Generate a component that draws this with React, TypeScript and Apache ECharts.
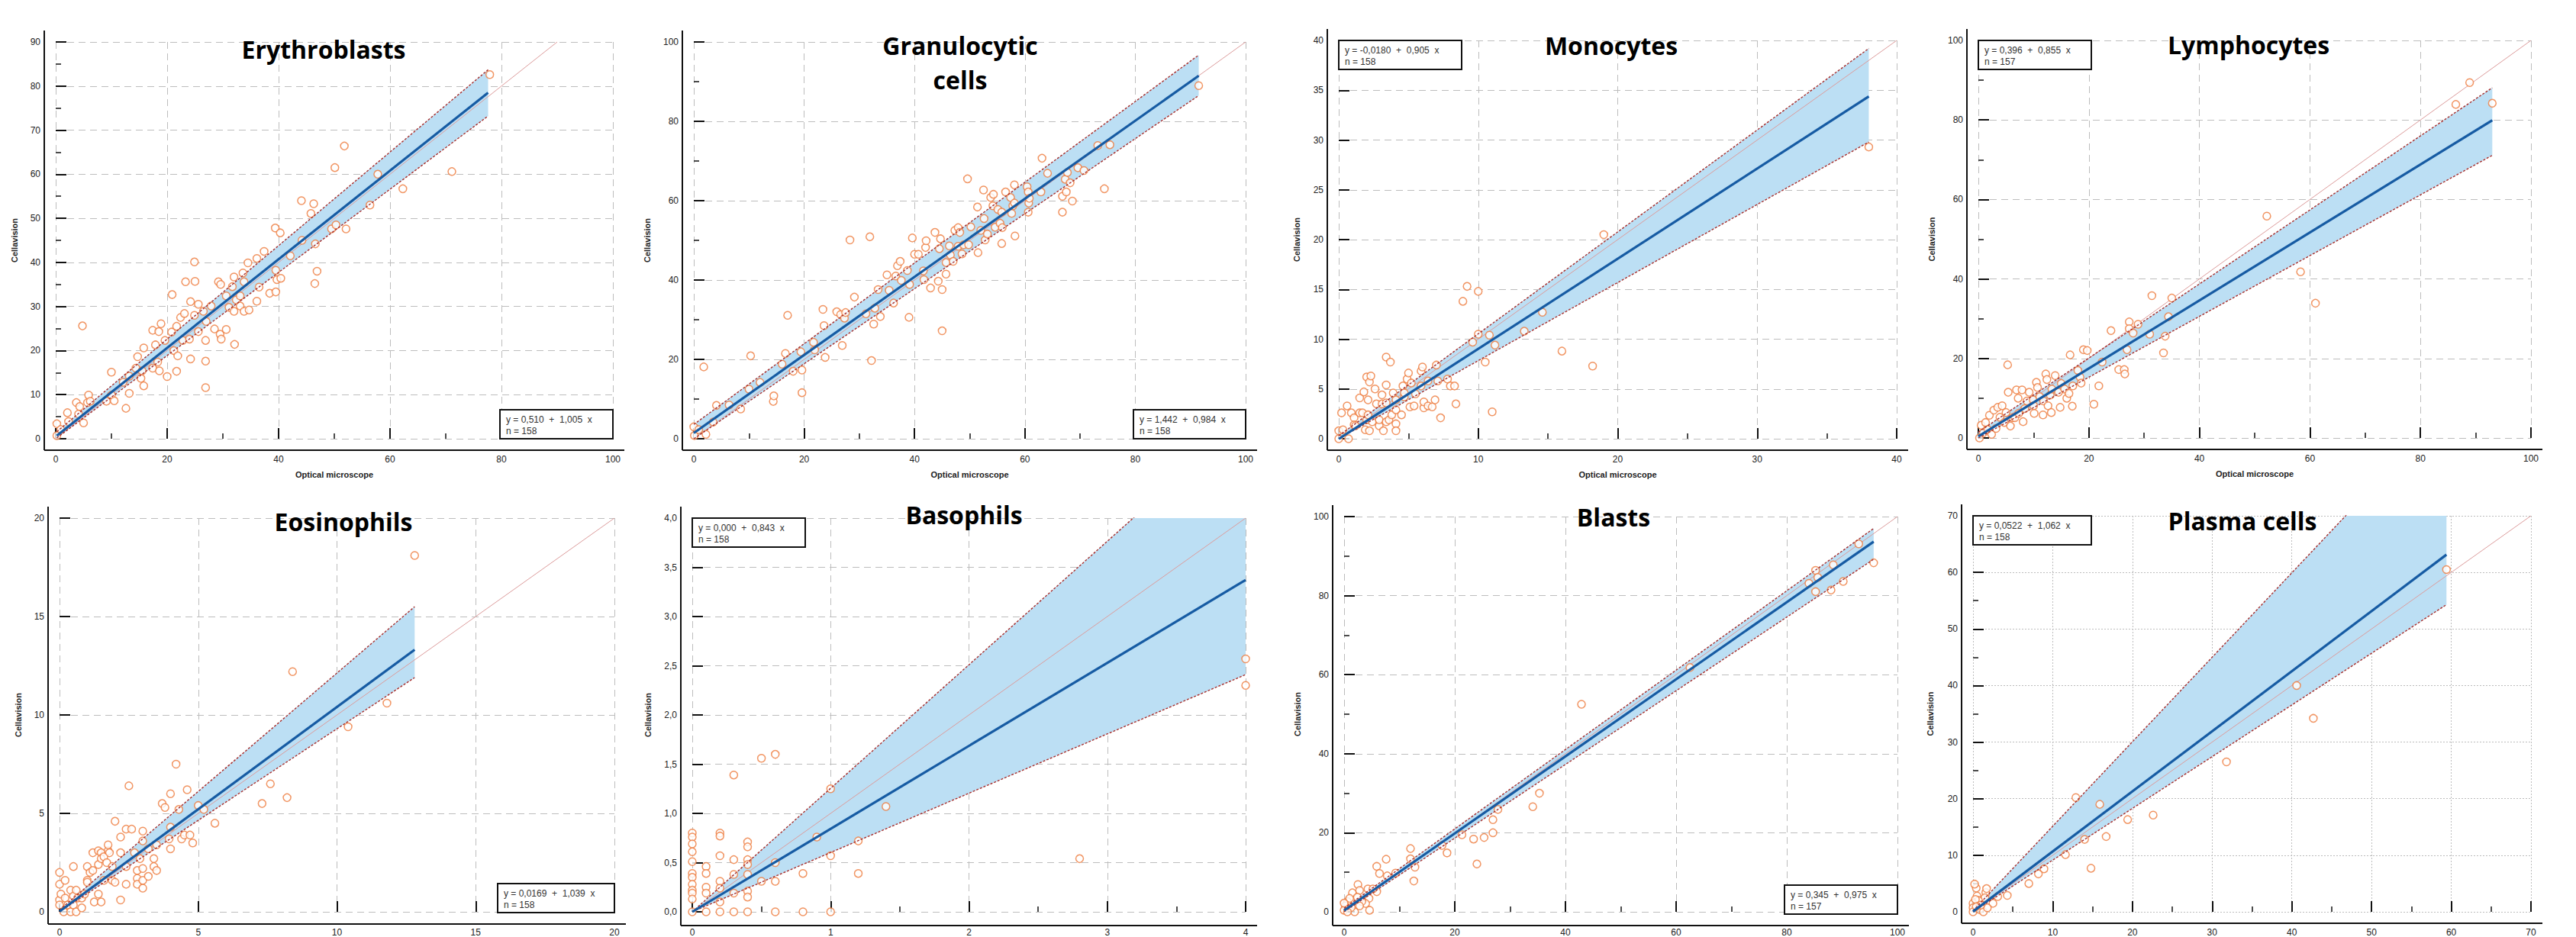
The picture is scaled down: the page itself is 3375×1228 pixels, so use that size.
import React, { useEffect, useRef } from "react";
import * as echarts from "echarts";

// ---------------- DATA ----------------
const panelTitles: string[][] = [
  ["Erythroblasts"],
  ["Granulocytic", "cells"],
  ["Monocytes"],
  ["Lymphocytes"],
  ["Eosinophils"],
  ["Basophils"],
  ["Blasts"],
  ["Plasma cells"],
];

const equationLabels = [
  "y = 0,510  +  1,005  x",
  "y = 1,442  +  0,984  x",
  "y = -0,0180  +  0,905  x",
  "y = 0,396  +  0,855  x",
  "y = 0,0169  +  1,039  x",
  "y = 0,000  +  0,843  x",
  "y = 0,345  +  0,975  x",
  "y = 0,0522  +  1,062  x",
];
const sampleSizes = [158, 158, 158, 157, 158, 158, 157, 158];

// regression [intercept, slope] and x-range of the fitted line
const fitCoefficients = [
  [0.51, 1.005],
  [1.442, 0.984],
  [-0.018, 0.905],
  [0.396, 0.855],
  [0.0169, 1.039],
  [0.0, 0.843],
  [0.345, 0.975],
  [0.0522, 1.062],
];
const fitRanges = [
  [0.2, 77.6],
  [0, 91.5],
  [0, 38],
  [0, 93],
  [0, 12.8],
  [0, 4],
  [0, 95.7],
  [0, 59.4],
];

// confidence band edges (start point, end point)
const bandUpper = [
  [[0.2, 1.6], [77.6, 83.7]],
  [[0, 3.6], [91.5, 96.7]],
  [[0, 0.3], [38, 39.2]],
  [[0, 1.5], [93, 88.1]],
  [[0, 0.1], [12.8, 15.5]],
  [[0, 0], [4, 5.02]],
  [[0, 0.9], [95.7, 97.0]],
  [[0, 0.2], [59.4, 88.9]],
];
const bandLower = [
  [[0.2, 0.2], [77.6, 73.2]],
  [[0, 0], [91.5, 86.5]],
  [[0, 0], [38, 29.8]],
  [[0, 0], [93, 71.1]],
  [[0, 0], [12.8, 11.9]],
  [[0, 0], [4, 2.41]],
  [[0, 0], [95.7, 89.2]],
  [[0, 0], [59.4, 54.3]],
];

const erythroblastsPoints = [
  [0.2, 3.4], [0.2, 0.7], [0.9, 2.1], [2.1, 5.9], [2.3, 3.9], [3.7, 8.2], [4.1, 5.6], [4.3, 7.3], [4.8, 25.6], [5.0, 3.6],
  [5.7, 8.2], [5.9, 9.9], [6.2, 8.5], [9.1, 8.5], [10.0, 15.1], [10.0, 9.9], [10.5, 8.6], [12.1, 12.8], [12.6, 6.9], [13.2, 10.3],
  [13.2, 14.2], [14.4, 16.0], [14.7, 18.6], [15.3, 13.7], [15.5, 15.4], [15.8, 20.6], [15.8, 12.0], [17.4, 24.6], [17.4, 16.0], [17.9, 21.3],
  [18.3, 17.4], [18.5, 24.3], [18.6, 15.4], [18.9, 26.1], [19.6, 22.3], [20.0, 14.1], [20.8, 24.2], [20.9, 32.7], [21.2, 20.0], [21.7, 15.3],
  [21.7, 25.5], [21.9, 18.8], [22.4, 27.5], [22.8, 22.3], [23.1, 28.4], [23.3, 35.6], [24.0, 22.6], [24.2, 31.1], [24.2, 18.1], [24.9, 40.1],
  [24.9, 28.0], [25.0, 35.7], [25.6, 30.5], [25.6, 24.3], [26.5, 28.9], [26.9, 17.6], [26.9, 11.6], [26.9, 22.3], [27.0, 26.6], [27.9, 30.1],
  [28.5, 24.9], [29.2, 35.6], [29.5, 23.7], [29.6, 35.0], [29.7, 22.6], [30.6, 24.8], [30.6, 32.4], [31.1, 29.8], [31.7, 34.5], [32.0, 36.7],
  [32.0, 28.9], [32.1, 21.4], [32.4, 31.5], [33.1, 32.4], [33.1, 30.1], [33.6, 37.6], [33.8, 35.6], [33.8, 28.9], [34.5, 39.9], [34.7, 29.2],
  [36.1, 40.9], [36.1, 31.2], [36.5, 34.4], [37.4, 42.5], [38.4, 33.0], [39.4, 47.8], [39.5, 33.3], [39.5, 38.2], [39.7, 36.1], [40.3, 46.7],
  [40.4, 36.4], [42.1, 41.5], [44.1, 54.0], [44.2, 45.0], [45.8, 51.1], [46.3, 53.3], [46.6, 44.2], [46.5, 35.2], [46.9, 38.0], [49.5, 47.6],
  [50.3, 48.5], [52.1, 47.6], [50.1, 61.5], [51.8, 66.4], [56.4, 53.0], [57.8, 60.0], [62.3, 56.7], [71.1, 60.6], [77.9, 82.6],
];

const granulocyticPoints = [
  [0.0, 3.0], [0.1, 0.8], [0.9, 2.3], [2.2, 1.1], [1.8, 18.1], [3.5, 4.2], [4.1, 8.4], [6.4, 8.5], [8.5, 7.5], [10.0, 12.5],
  [10.3, 20.9], [12.0, 14.2], [14.4, 9.4], [14.5, 10.8], [16.0, 18.8], [16.6, 21.5], [17.0, 31.1], [18.0, 17.0], [19.4, 21.9], [19.6, 17.3],
  [19.6, 11.6], [21.7, 24.3], [21.9, 22.4], [23.4, 32.6], [23.6, 28.5], [23.8, 20.5], [25.9, 32.0], [26.6, 31.3], [26.9, 23.5], [27.3, 30.4],
  [27.5, 31.8], [28.3, 50.1], [29.1, 35.7], [31.2, 31.5], [31.9, 50.9], [32.2, 19.7], [32.6, 28.9], [32.8, 32.9], [33.4, 37.6], [33.8, 30.8],
  [35.0, 41.3], [35.4, 37.4], [36.2, 34.2], [36.6, 41.0], [36.9, 43.6], [37.4, 44.7], [37.6, 39.9], [38.7, 42.4], [39.0, 30.6], [39.1, 38.9],
  [39.6, 50.6], [40.0, 46.5], [40.7, 46.5], [41.6, 42.3], [41.7, 40.1], [42.0, 48.2], [42.1, 49.9], [42.9, 38.0], [43.7, 52.0], [44.3, 39.7],
  [44.5, 47.9], [44.7, 50.4], [45.0, 37.6], [45.0, 27.2], [45.7, 41.5], [45.7, 44.4], [46.3, 48.6], [46.5, 46.3], [47.0, 44.7], [47.3, 52.5],
  [47.9, 53.2], [47.9, 48.5], [48.2, 52.0], [48.6, 46.6], [48.9, 48.9], [49.6, 65.5], [49.8, 48.9], [50.2, 53.4], [51.4, 58.4], [51.5, 46.9],
  [52.0, 52.5], [52.5, 62.7], [52.6, 55.5], [52.8, 50.1], [53.2, 51.6], [53.8, 60.8], [54.2, 58.7], [54.3, 61.6], [54.6, 53.3], [55.1, 57.8],
  [55.5, 54.3], [55.8, 57.1], [55.8, 49.2], [55.9, 53.2], [56.5, 62.2], [57.4, 60.8], [57.6, 56.8], [57.8, 58.7], [58.1, 64.0], [58.1, 59.4],
  [58.2, 51.1], [60.4, 63.5], [60.6, 62.2], [60.6, 57.1], [60.7, 59.4], [60.8, 60.6], [62.9, 62.2], [63.1, 70.7], [64.1, 66.9], [66.8, 57.1],
  [66.8, 61.1], [67.3, 65.4], [67.5, 62.2], [67.7, 67.1], [68.2, 64.5], [68.6, 59.9], [69.6, 68.3], [70.7, 67.6], [73.2, 73.9], [74.4, 63.0],
  [75.4, 74.1], [91.5, 89.0],
];

const monocytesPoints = [
  [0.0, 0.0], [0.0, 0.8], [0.2, 2.6], [0.3, 0.9], [0.6, 3.3], [0.7, 0.0], [0.9, 2.6], [1.1, 2.1], [1.1, 1.4], [1.2, 1.3],
  [1.5, 4.1], [1.5, 2.6], [1.7, 2.6], [1.8, 4.7], [1.9, 0.9], [2.0, 6.2], [2.0, 1.9], [2.1, 3.9], [2.1, 2.4], [2.2, 5.7],
  [2.2, 0.8], [2.3, 6.3], [2.4, 1.7], [2.6, 5.0], [2.7, 3.5], [2.9, 1.3], [2.9, 1.9], [3.1, 4.4], [3.1, 3.5], [3.2, 0.8],
  [3.4, 8.2], [3.4, 5.4], [3.4, 1.7], [3.4, 3.6], [3.6, 1.9], [3.7, 7.7], [3.8, 2.4], [3.9, 4.6], [4.1, 3.9], [4.1, 1.5],
  [4.1, 0.8], [4.1, 2.9], [4.5, 2.4], [4.6, 5.3], [4.7, 4.2], [4.7, 4.6], [4.9, 6.0], [5.0, 6.6], [5.1, 3.2], [5.2, 5.6],
  [5.4, 3.3], [5.5, 4.5], [5.9, 6.8], [5.9, 5.3], [6.0, 7.2], [6.1, 3.1], [6.1, 3.7], [6.4, 5.8], [6.4, 3.3], [6.7, 3.2],
  [6.9, 3.9], [7.0, 7.4], [7.1, 5.8], [7.3, 2.1], [7.8, 6.0], [8.0, 5.3], [8.3, 5.3], [8.4, 3.5], [8.9, 13.8], [9.2, 15.3],
  [9.6, 9.7], [10.0, 14.8], [10.0, 10.5], [10.5, 7.7], [10.8, 10.4], [11.0, 2.7], [11.2, 9.4], [13.3, 10.8], [14.6, 12.7], [16.0, 8.8],
  [18.2, 7.3], [19.0, 20.5], [38.0, 29.3],
];

const lymphocytesPoints = [
  [0.2, 0.0], [0.5, 3.2], [0.9, 1.3], [1.3, 3.9], [1.7, 2.1], [2.0, 5.7], [2.4, 0.9], [2.8, 7.0], [3.2, 2.4], [3.5, 7.7],
  [3.9, 5.2], [4.3, 8.1], [4.7, 3.9], [5.0, 6.4], [5.3, 18.4], [5.4, 11.5], [5.8, 3.0], [6.2, 5.1], [6.6, 5.1], [6.9, 12.1],
  [7.2, 10.0], [7.3, 6.2], [7.9, 12.1], [8.1, 4.1], [8.4, 7.4], [8.8, 9.3], [9.2, 11.5], [9.9, 9.6], [10.0, 8.1], [10.1, 6.2],
  [10.5, 14.0], [10.7, 12.7], [11.1, 10.4], [11.7, 5.8], [11.8, 9.3], [12.2, 16.1], [12.4, 14.7], [12.6, 8.1], [13.0, 10.8], [13.2, 6.4],
  [13.3, 12.3], [13.9, 15.7], [14.5, 11.5], [14.8, 7.7], [15.0, 13.7], [15.6, 12.3], [16.0, 10.0], [16.4, 11.2], [16.6, 20.9], [17.0, 8.0],
  [17.1, 13.1], [18.0, 17.0], [18.4, 15.3], [18.6, 13.8], [19.0, 22.2], [19.7, 22.0], [20.9, 8.5], [21.8, 13.1], [22.4, 19.1], [24.0, 27.0],
  [25.4, 17.2], [26.4, 17.2], [26.5, 16.1], [26.9, 22.2], [27.3, 29.2], [27.3, 27.5], [28.0, 26.4], [28.9, 28.6], [31.0, 26.1], [31.4, 35.8],
  [33.5, 21.4], [33.8, 25.6], [34.4, 30.5], [35.0, 35.2], [52.2, 55.8], [58.3, 41.8], [61.0, 33.9], [86.4, 83.9], [88.9, 89.4], [93.0, 84.2],
];

const eosinophilsPoints = [
  [0.0, 2.0], [0.0, 1.4], [0.0, 0.6], [0.0, 0.35], [0.05, 0.9], [0.15, 0.0], [0.2, 1.6], [0.2, 0.7], [0.3, 0.35], [0.4, 1.1],
  [0.4, 0.0], [0.5, 2.3], [0.5, 0.8], [0.5, 0.35], [0.6, 1.1], [0.6, 0.0], [0.65, 0.7], [0.8, 0.7], [0.8, 0.2], [0.9, 0.9],
  [1.0, 2.3], [1.0, 1.6], [1.0, 1.5], [1.1, 2.0], [1.2, 3.0], [1.2, 2.1], [1.25, 0.5], [1.4, 3.1], [1.4, 2.4], [1.4, 0.9],
  [1.5, 3.0], [1.5, 2.7], [1.5, 0.5], [1.6, 2.8], [1.6, 1.6], [1.7, 2.5], [1.75, 3.1], [1.75, 3.4], [1.8, 3.0], [1.9, 2.3],
  [1.9, 1.6], [2.0, 4.6], [2.0, 1.5], [2.2, 3.8], [2.2, 3.0], [2.2, 0.6], [2.4, 4.2], [2.4, 2.3], [2.4, 1.4], [2.5, 6.4],
  [2.6, 4.2], [2.7, 3.0], [2.8, 2.1], [2.8, 1.7], [2.8, 1.4], [2.9, 2.7], [3.0, 4.1], [3.0, 3.6], [3.0, 2.2], [3.0, 1.6],
  [3.0, 1.2], [3.2, 3.2], [3.2, 1.8], [3.4, 2.7], [3.4, 2.3], [3.5, 3.4], [3.5, 2.1], [3.7, 5.5], [3.8, 5.3], [3.95, 3.7],
  [4.0, 6.0], [4.0, 4.3], [4.0, 3.2], [4.2, 7.5], [4.3, 5.2], [4.4, 3.7], [4.5, 3.9], [4.6, 6.2], [4.7, 3.9], [4.8, 3.5],
  [5.0, 5.4], [5.2, 5.2], [5.6, 4.5], [7.3, 5.5], [7.6, 6.5], [8.2, 5.8], [8.4, 12.2], [10.4, 9.4], [11.8, 10.6], [12.8, 18.1],
];

const basophilsPoints = [
  [4.0, 2.57], [4.0, 2.3], [2.8, 0.54], [1.4, 1.07], [1.0, 1.25], [1.0, 0.57], [1.0, 0.0], [0.9, 0.76], [1.2, 0.72], [1.2, 0.39],
  [0.8, 0.39], [0.8, 0.0], [0.6, 1.6], [0.5, 1.56], [0.3, 1.39], [0.6, 0.5], [0.6, 0.31], [0.6, 0.0], [0.5, 0.31], [0.4, 0.71],
  [0.4, 0.66], [0.4, 0.53], [0.4, 0.48], [0.4, 0.38], [0.4, 0.21], [0.4, 0.15], [0.4, 0.0], [0.3, 0.53], [0.3, 0.38], [0.3, 0.19],
  [0.3, 0.0], [0.2, 0.8], [0.2, 0.77], [0.2, 0.57], [0.2, 0.31], [0.2, 0.24], [0.2, 0.1], [0.2, 0.0], [0.1, 0.46], [0.1, 0.39],
  [0.1, 0.25], [0.1, 0.19], [0.1, 0.0], [0.0, 0.8], [0.0, 0.76], [0.0, 0.69], [0.0, 0.61], [0.0, 0.51], [0.0, 0.39], [0.0, 0.35],
  [0.0, 0.28], [0.0, 0.22], [0.0, 0.19], [0.0, 0.13], [0.0, 0.0],
];

const blastsPoints = [
  [93.0, 93.1], [95.7, 88.3], [88.4, 87.8], [85.2, 86.4], [85.6, 84.6], [84.0, 83.1], [85.2, 81.0], [88.0, 81.4], [90.2, 83.6], [62.5, 61.8],
  [42.9, 52.5], [35.3, 30.0], [34.1, 26.6], [27.8, 25.9], [26.9, 23.3], [26.9, 20.0], [25.3, 18.8], [23.4, 18.4], [21.3, 19.5], [24.0, 12.1],
  [18.6, 14.9], [17.7, 16.8], [12.0, 16.0], [12.0, 13.4], [12.8, 11.3], [12.6, 7.8], [7.6, 13.3], [5.9, 11.5], [6.4, 9.7], [7.8, 9.1],
  [9.3, 9.8], [5.9, 5.1], [2.5, 6.9], [1.5, 4.8], [2.8, 5.4], [4.3, 5.8], [5.2, 5.8], [4.5, 3.4], [3.9, 2.1], [4.6, 0.4],
  [1.9, 0.0], [0.6, 2.6], [0.2, 1.5], [1.0, 3.4], [2.4, 3.7], [3.2, 2.6], [0.0, 0.4], [0.0, 2.2], [1.3, 1.1], [2.8, 1.5],
  [0.6, 0.0],
];

const plasmaPoints = [
  [59.4, 60.5], [40.6, 40.0], [42.7, 34.2], [31.8, 26.5], [22.6, 17.1], [19.4, 16.3], [16.7, 13.3], [15.9, 19.0], [12.9, 20.2], [14.0, 12.8],
  [14.8, 7.7], [11.6, 10.1], [8.9, 7.6], [8.2, 6.7], [7.0, 5.0], [4.3, 2.9], [3.1, 2.7], [2.5, 1.5], [1.6, 3.4], [1.7, 4.1],
  [1.5, 2.5], [0.4, 4.2], [0.2, 4.9], [0.5, 2.8], [0.7, 2.0], [0.0, 1.5], [0.0, 0.7], [0.0, 0.0], [0.8, 0.4], [1.3, 0.0],
  [1.8, 0.7], [0.3, 2.2], [1.0, 1.2], [0.4, 0.9],
];

const panelPoints = [
  erythroblastsPoints, granulocyticPoints, monocytesPoints, lymphocytesPoints,
  eosinophilsPoints, basophilsPoints, blastsPoints, plasmaPoints,
];

// axis scales: [max, label interval, minor split count]
const xScales = [[100, 20, 2], [100, 20, 2], [40, 10, 2], [100, 20, 2], [20, 5, 0], [4, 1, 2], [100, 20, 2], [70, 10, 2]];
const yScales = [[90, 10, 2], [100, 20, 2], [40, 5, 0], [100, 20, 2], [20, 5, 0], [4, 0.5, 0], [100, 20, 2], [70, 10, 2]];

// ---------------- LAYOUT ----------------
const layouts = [
  { l: 73, r: 803, t: 55, b: 575, box: "br", boxW: 148, title: [[424, 64]], yGap: 34, xName: true },
  { l: 909, r: 1632, t: 55, b: 575, box: "br", boxW: 147, title: [[1258, 59], [1258, 104]], yGap: 41, xName: true },
  { l: 1754, r: 2485, t: 53, b: 575, box: "tl", boxW: 161, title: [[2111, 59]], yGap: 35, xName: true },
  { l: 2592, r: 3316, t: 53, b: 574, box: "tl", boxW: 148, title: [[2946, 58]], yGap: 41, xName: true },
  { l: 78, r: 805, t: 679, b: 1196, box: "br", boxW: 153, title: [[450, 683]], yGap: 34, xName: false },
  { l: 907, r: 1632, t: 679, b: 1198, box: "tl", boxW: 148, title: [[1263, 674]], yGap: 38, xName: false },
  { l: 1761, r: 2486, t: 677, b: 1198, box: "br", boxW: 148, title: [[2114, 677]], yGap: 41, xName: false },
  { l: 2585, r: 3316, t: 676, b: 1195, box: "tl", boxW: 155, title: [[2938, 682]], yGap: 36, xName: false },
];

const AXIS_OFFSET = 15;
const BOX_H = 38;

function bandPolygon(upper: number[][], lower: number[][], yMax: number) {
  const pts: number[][] = [lower[0], lower[1]];
  const [ux0, uy0] = upper[0];
  const [ux1, uy1] = upper[1];
  if (uy1 > yMax) {
    const xc = ux0 + ((yMax - uy0) * (ux1 - ux0)) / (uy1 - uy0);
    pts.push([ux1, yMax], [xc, yMax]);
  } else {
    pts.push(upper[1]);
  }
  pts.push(upper[0]);
  return pts;
}

function fmt(v: number, step: number) {
  if (step < 1) return v.toFixed(1).replace(".", ",");
  return String(Math.round(v));
}

export default function App() {
  const ref = useRef<HTMLDivElement>(null);

  useEffect(() => {
    if (!ref.current) return;
    const chart = echarts.init(ref.current, undefined, { renderer: "svg" });

    const grids: any[] = [];
    const xAxes: any[] = [];
    const yAxes: any[] = [];
    const series: any[] = [];
    const graphics: any[] = [];

    const nameStyle = { fontSize: 11, fontWeight: "bold", color: "#222", fontFamily: "Liberation Sans" };
    const labelStyle = { fontSize: 12, color: "#222", fontFamily: "Liberation Sans" };

    layouts.forEach((L, i) => {
      const [xMax, xInt, xMinor] = xScales[i];
      const [yMax, yInt, yMinor] = yScales[i];
      const splitType = i === 7 ? [2, 2] : [9, 6];

      grids.push({ left: L.l, top: L.t, width: L.r - L.l, height: L.b - L.t, containLabel: false });

      xAxes.push({
        gridIndex: i,
        type: "value",
        min: 0,
        max: xMax,
        interval: xInt,
        offset: AXIS_OFFSET,
        axisLine: { show: false },
        axisTick: { show: true, inside: true, length: 14, lineStyle: { color: "#111", width: 2 } },
        minorTick: xMinor
          ? { show: true, splitNumber: xMinor, length: 7, lineStyle: { color: "#111", width: 1.5 } }
          : { show: false },
        axisLabel: { ...labelStyle, margin: 6, formatter: (v: number) => fmt(v, xInt) },
        splitLine: { show: true, lineStyle: { color: "#bdbdbd", width: 1, type: splitType } },
        name: L.xName ? "Optical microscope" : "",
        nameLocation: "middle",
        nameGap: 26,
        nameTextStyle: nameStyle,
      });

      yAxes.push({
        gridIndex: i,
        type: "value",
        min: 0,
        max: yMax,
        interval: yInt,
        offset: AXIS_OFFSET,
        axisLine: { show: false },
        axisTick: { show: true, inside: true, length: 14, lineStyle: { color: "#111", width: 2 } },
        minorTick: yMinor
          ? { show: true, splitNumber: yMinor, length: 7, lineStyle: { color: "#111", width: 1.5 } }
          : { show: false },
        axisLabel: { ...labelStyle, margin: 5, formatter: (v: number) => fmt(v, yInt) },
        splitLine: { show: true, lineStyle: { color: "#bdbdbd", width: 1, type: splitType } },
        name: "Cellavision",
        nameLocation: "middle",
        nameGap: L.yGap,
        nameTextStyle: nameStyle,
      });

      const up = bandUpper[i];
      const lo = bandLower[i];
      const poly = bandPolygon(up, lo, yMax);

      // confidence band fill
      series.push({
        type: "custom",
        xAxisIndex: i,
        yAxisIndex: i,
        silent: true,
        z: 1,
        data: [[0, 0]],
        renderItem: (_p: any, api: any) => ({
          type: "polygon",
          shape: { points: poly.map((pt) => api.coord(pt)) },
          style: { fill: "#bcdff4", stroke: "none" },
        }),
      });

      // identity line
      const idMax = Math.min(xMax, yMax);
      series.push({
        type: "line",
        xAxisIndex: i,
        yAxisIndex: i,
        silent: true,
        z: 2,
        symbol: "none",
        data: [[0, 0], [idMax, idMax]],
        lineStyle: { color: "#dc9c9c", width: 1 },
      });

      // observations
      series.push({
        type: "scatter",
        xAxisIndex: i,
        yAxisIndex: i,
        z: 3,
        symbol: "circle",
        symbolSize: 10,
        data: panelPoints[i],
        itemStyle: { color: "#ffffff", borderColor: "#ee7b3c", borderWidth: 1.5 },
      });

      // band edges
      [up, lo].forEach((edge) => {
        series.push({
          type: "line",
          xAxisIndex: i,
          yAxisIndex: i,
          silent: true,
          z: 4,
          symbol: "none",
          data: edge,
          lineStyle: { color: "#a8302e", width: 1.4, type: [3, 2] },
        });
      });

      // regression line
      const [a, b] = fitCoefficients[i];
      const [x0, x1] = fitRanges[i];
      series.push({
        type: "line",
        xAxisIndex: i,
        yAxisIndex: i,
        silent: true,
        z: 5,
        symbol: "none",
        data: [[x0, a + b * x0], [x1, a + b * x1]],
        lineStyle: { color: "#165ba3", width: 3.2 },
      });

      // axis lines (drawn across the offset corner)
      const ax = L.l - AXIS_OFFSET;
      const ay = L.b + AXIS_OFFSET;
      graphics.push({
        type: "line",
        z: 50,
        silent: true,
        shape: { x1: ax, y1: ay, x2: L.r + AXIS_OFFSET, y2: ay },
        style: { stroke: "#111", lineWidth: 2 },
      });
      graphics.push({
        type: "line",
        z: 50,
        silent: true,
        shape: { x1: ax, y1: ay, x2: ax, y2: L.t - AXIS_OFFSET },
        style: { stroke: "#111", lineWidth: 2 },
      });

      // titles
      panelTitles[i].forEach((t, k) => {
        const [tx, ty] = L.title[k];
        graphics.push({
          type: "text",
          z: 60,
          silent: true,
          x: tx,
          y: ty,
          style: {
            text: t,
            fontSize: 32,
            fontWeight: "bold",
            fontFamily: "Open Sans",
            fill: "#000",
            align: "center",
            verticalAlign: "middle",
            textAlign: "center",
            textVerticalAlign: "middle",
          },
        });
      });

      // equation box
      const bx = L.box === "br" ? L.r - L.boxW : L.l;
      const by = L.box === "br" ? L.b - BOX_H : L.t;
      graphics.push({
        type: "rect",
        z: 70,
        silent: true,
        shape: { x: bx, y: by, width: L.boxW, height: BOX_H },
        style: { fill: "#ffffff", stroke: "#111", lineWidth: 2 },
      });
      graphics.push({
        type: "text",
        z: 71,
        silent: true,
        x: bx + 8,
        y: by + 5,
        style: {
          text: equationLabels[i] + "\nn = " + sampleSizes[i],
          fontSize: 12,
          fontFamily: "Liberation Sans",
          fill: "#333",
          lineHeight: 15,
          align: "left",
          verticalAlign: "top",
          textAlign: "left",
          textVerticalAlign: "top",
        },
      });
    });

    chart.setOption({
      animation: false,
      backgroundColor: "#ffffff",
      grid: grids,
      xAxis: xAxes,
      yAxis: yAxes,
      series,
      graphic: { elements: graphics },
    });

    return () => chart.dispose();
  }, []);

  return (
    <div
      ref={ref}
      style={{ position: "fixed", left: 0, top: 0, width: 3375, height: 1228, background: "#fff" }}
    />
  );
}
